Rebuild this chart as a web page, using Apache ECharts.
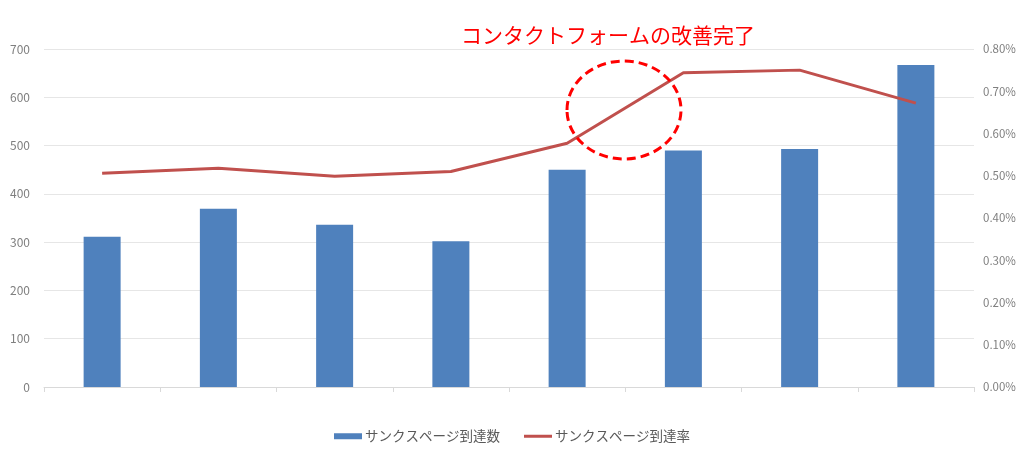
<!DOCTYPE html>
<html>
<head>
<meta charset="utf-8">
<script src="https://cdn.jsdelivr.net/npm/echarts@6/dist/echarts.min.js"></script>
<style>
  html, body { margin: 0; padding: 0; background: #fff; }
  #chart { width: 1024px; height: 461px; }
</style>
</head>
<body>
<div id="chart"></div>
<script>
// データ
const months = ['1', '2', '3', '4', '5', '6', '7', '8'];
const thanksCount = [311, 369, 336, 302, 450, 490, 493, 667];
const thanksRate = [0.506, 0.518, 0.499, 0.510, 0.577, 0.744, 0.750, 0.672];
const leftTicks = [0, 700, 100];
const rightTicks = [0, 0.8, 0.1];
const noteText = 'コンタクトフォームの改善完了';

const chart = echarts.init(document.getElementById('chart'));
const font = '"Noto Sans CJK JP", "Noto Sans", sans-serif';

// 凡例の線アイコン（太さ3pxの帯）
const lineIcon = 'path://M0,0L0,0Z M0,1.5H28V4.5H0Z M0,6L0,6Z';

const option = {
    animation: false,
    textStyle: { fontFamily: font },
    grid: {
        left: 44,
        right: 50,
        top: 49,
        bottom: 74,
    },
    legend: {
        bottom: 13,
        left: 'center',
        itemGap: 24,
        itemWidth: 28,
        itemHeight: 6,
        textStyle: { color: '#595959', fontSize: 13.5, fontFamily: font, padding: [0, 0, 0, -2] },
        data: [
            { name: 'サンクスページ到達数', icon: 'rect' },
            { name: 'サンクスページ到達率', icon: lineIcon, itemStyle: { color: '#C0504D' } },
        ],
    },
    xAxis: {
        type: 'category',
        data: months,
        boundaryGap: true,
        axisLine: { lineStyle: { color: '#d9d9d9', width: 1 } },
        axisTick: { show: true, length: 5, lineStyle: { color: '#d9d9d9' } },
        axisLabel: { show: false },
    },
    yAxis: [
        {
            type: 'value',
            min: leftTicks[0],
            max: leftTicks[1],
            interval: leftTicks[2],
            axisLine: { show: false },
            axisTick: { show: false },
            axisLabel: { color: '#7f7f7f', fontSize: 12, margin: 14 },
            splitLine: { lineStyle: { color: '#e6e6e6' } },
        },
        {
            type: 'value',
            min: rightTicks[0],
            max: rightTicks[1],
            interval: rightTicks[2],
            axisLine: { show: false },
            axisTick: { show: false },
            axisLabel: {
                color: '#7f7f7f',
                fontSize: 11.5,
                margin: 9,
                formatter: v => v.toFixed(2) + '%',
            },
            splitLine: { show: false },
        },
    ],
    series: [
        {
            name: 'サンクスページ到達数',
            type: 'bar',
            data: thanksCount,
            barWidth: 37,
            itemStyle: { color: '#4F81BD' },
            yAxisIndex: 0,
        },
        {
            name: 'サンクスページ到達率',
            type: 'line',
            data: thanksRate,
            yAxisIndex: 1,
            symbol: 'none',
            lineStyle: { color: '#C0504D', width: 3 },
            itemStyle: { color: '#C0504D' },
        },
    ],
    graphic: [
        {
            type: 'text',
            left: 461,
            top: 25,
            style: {
                text: noteText,
                fill: '#ff0000',
                font: '21px ' + font,
            },
        },
        {
            type: 'ellipse',
            shape: { cx: 624, cy: 110, rx: 57, ry: 49 },
            style: {
                fill: 'none',
                stroke: '#ff0000',
                lineWidth: 3,
                lineDash: [9, 5],
            },
            z: 100,
        },
    ],
};

chart.setOption(option);
</script>
</body>
</html>
